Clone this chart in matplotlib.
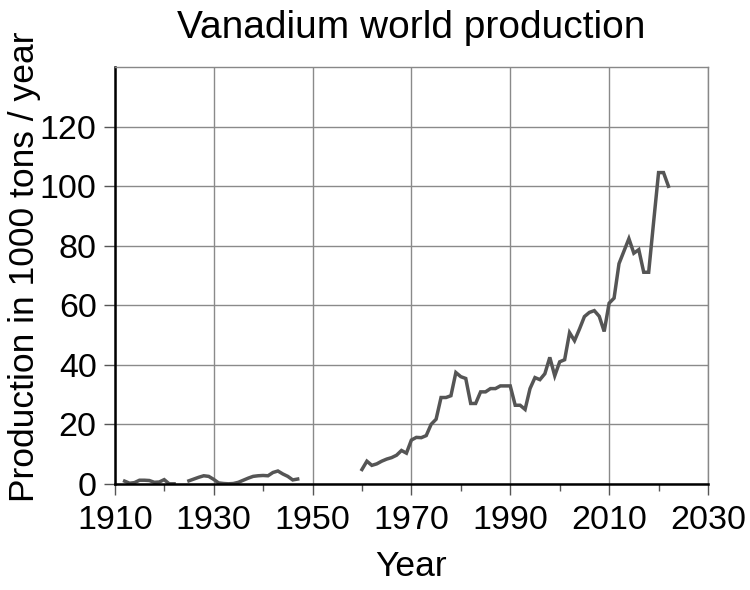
import numpy as np
import matplotlib
matplotlib.use("Agg")
import matplotlib.pyplot as plt

plt.rcParams['font.family'] = ['Liberation Sans', 'DejaVu Sans']

# Early production (1000 t / year), three separate stretches of records
years_a = [1912, 1913, 1914, 1915, 1916, 1917, 1918, 1919, 1920, 1921, 1922]
prod_a = [0.9, 0.2, 0.4, 1.2, 1.2, 1.1, 0.5, 0.6, 1.4, 0.0, 0.0]

years_b = list(range(1925, 1948))
prod_b = [1.0, 1.6, 2.2, 2.7, 2.5, 1.5, 0.3, 0.1, 0.0, 0.1, 0.5, 1.2,
          1.9, 2.5, 2.7, 2.8, 2.7, 3.8, 4.3, 3.3, 2.5, 1.3, 1.6]

years_c = list(range(1960, 2023))
prod_c = [4.8, 7.6, 6.2, 6.7, 7.6, 8.3, 8.8, 9.6, 11.2, 10.3,
          14.7, 15.6, 15.5, 16.2, 20.0, 21.7, 29.0, 29.0, 29.6, 37.4,
          36.0, 35.4, 27.0, 27.0, 30.9, 30.9, 32.0, 32.0, 32.9, 32.9,
          32.9, 26.4, 26.4, 25.0, 32.0, 35.7, 35.0, 37.0, 42.5, 36.3,
          41.0, 41.7, 50.8, 48.1, 52.0, 56.2, 57.6, 58.2, 56.3, 51.2,
          60.7, 62.4, 74.0, 78.2, 82.4, 77.5, 78.7, 71.1, 71.1, 88.0,
          104.6, 104.6, 100.0]

x_major = [1910, 1930, 1950, 1970, 1990, 2010, 2030]
x_minor = [1920, 1940, 1960, 1980, 2000, 2020]
y_major = [0, 20, 40, 60, 80, 100, 120]

fig = plt.figure(figsize=(7.5, 5.9), dpi=100)
ax = fig.add_axes([0.153, 0.18, 0.791, 0.706])

line_style = dict(color='#555555', linewidth=2.5, solid_joinstyle='miter')
ax.plot(years_a, prod_a, **line_style)
ax.plot(years_b, prod_b, **line_style)
ax.plot(years_c, prod_c, **line_style)

ax.set_xlim(1910, 2030)
ax.set_ylim(0, 140)
ax.set_xticks(x_major)
ax.set_xticks(x_minor, minor=True)
ax.set_yticks(y_major)

ax.grid(True, which='major', color='#8a8a8a', linewidth=1.0)
ax.set_axisbelow(True)

for side in ['top', 'right']:
    ax.spines[side].set_color('#888888')
    ax.spines[side].set_linewidth(1.0)
for side in ['left', 'bottom']:
    ax.spines[side].set_color('black')
    ax.spines[side].set_linewidth(1.8)

ax.tick_params(axis='both', which='major', direction='out', length=8,
               width=1.0, color='#555555', labelsize=24.5)
ax.tick_params(axis='x', which='major', pad=7)
ax.tick_params(axis='y', which='major', pad=5)
ax.tick_params(axis='x', which='minor', direction='out', length=5,
               width=1.0, color='#555555')

ax.set_title('Vanadium world production', fontsize=28, pad=21)
ax.set_xlabel('Year', fontsize=25.5, labelpad=10)
ax.set_ylabel('Production in 1000 tons / year', fontsize=25.5)
ax.yaxis.set_label_coords(-0.125, 0.52)

fig.savefig('out.png', dpi=100)
